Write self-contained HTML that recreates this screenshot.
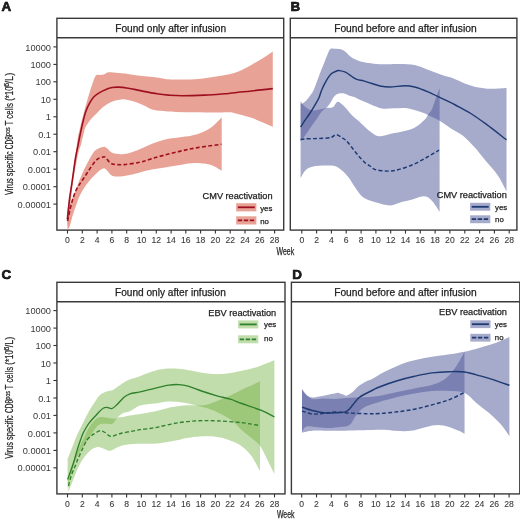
<!DOCTYPE html><html><head><meta charset="utf-8"><style>html,body{margin:0;padding:0;background:#fff;}svg{display:block;will-change:transform;}text{font-family:"Liberation Sans",sans-serif;fill:#222;stroke:#222;stroke-width:0.25px;}</style></head><body>
<svg width="520" height="521" viewBox="0 0 520 521">
<rect width="520" height="521" fill="#fff"/>
<g>
<path d="M67.5,212.0C67.8,209.5 68.8,202.2 69.5,197.0C70.2,191.8 70.8,186.3 71.5,181.0C72.2,175.7 73.2,170.2 74.0,165.0C74.8,159.8 75.6,154.5 76.2,150.0C76.8,145.5 77.2,141.7 77.8,138.0C78.4,134.3 79.1,131.8 80.1,127.8C81.0,123.8 82.3,118.4 83.5,114.0C84.7,109.6 86.0,104.9 87.0,101.3C88.0,97.7 88.8,95.1 89.6,92.5C90.4,89.9 91.1,87.6 91.8,85.5C92.5,83.4 93.1,81.7 93.8,80.0C94.5,78.3 95.2,76.1 96.2,75.3C97.2,74.5 98.7,75.1 100.0,74.9C101.3,74.8 102.5,74.8 103.8,74.4C105.1,74.0 106.1,72.8 107.7,72.5C109.3,72.2 110.6,72.3 113.5,72.5C116.4,72.7 121.0,73.0 125.0,73.5C129.1,74.0 132.5,74.8 137.8,75.5C143.1,76.2 151.9,76.8 157.0,77.4C162.1,78.0 163.7,79.0 168.5,79.3C173.3,79.6 180.0,79.7 185.8,79.5C191.6,79.3 197.1,79.1 203.2,78.4C209.3,77.7 216.7,76.6 222.5,75.5C228.3,74.4 233.0,73.5 237.8,71.7C242.6,69.9 247.1,67.2 251.3,64.9C255.5,62.7 259.2,60.4 262.8,58.2C266.4,56.0 271.1,52.6 272.8,51.5L272.8,126.8C271.1,126.1 266.4,124.1 262.8,122.6C259.2,121.1 255.5,119.2 251.3,117.8C247.1,116.4 241.4,114.9 237.8,114.0C234.2,113.1 233.8,112.5 230.0,112.2C226.2,112.0 220.4,112.5 214.7,112.5C208.9,112.5 201.9,112.4 195.5,112.3C189.1,112.2 182.6,112.3 176.2,112.0C169.8,111.7 161.1,111.0 157.0,110.5C152.9,110.0 153.8,110.2 151.5,109.3C149.2,108.4 146.4,106.6 143.5,105.3C140.6,104.0 137.0,102.5 133.9,101.5C130.8,100.5 127.1,99.8 125.0,99.5C122.9,99.2 122.8,99.4 121.2,99.6C119.6,99.8 117.3,100.1 115.4,100.6C113.5,101.1 111.6,101.7 109.6,102.8C107.5,103.9 105.1,105.3 103.1,107.0C101.0,108.7 99.2,110.9 97.3,112.8C95.4,114.7 93.5,116.3 91.6,118.6C89.7,120.9 87.1,124.0 85.8,126.6C84.5,129.2 84.3,131.1 83.5,134.0C82.7,136.9 81.9,141.2 81.2,143.9C80.5,146.6 79.9,147.0 79.1,150.0C78.3,153.0 77.5,156.7 76.5,162.0C75.5,167.3 74.1,174.3 73.0,182.0C71.9,189.7 70.9,200.3 70.0,208.0C69.1,215.7 67.9,224.7 67.5,228.0Z" fill="#c82405" fill-opacity="0.42" stroke="none"/>
<path d="M67.5,218.0C67.9,215.8 68.9,209.1 70.0,205.0C71.1,200.9 72.3,198.6 74.3,193.5C76.3,188.4 79.4,180.0 82.0,174.2C84.6,168.4 87.5,162.8 89.7,158.8C92.0,154.8 93.2,152.2 95.5,150.2C97.8,148.2 101.3,147.2 103.2,146.9C105.1,146.6 105.4,147.3 107.0,148.3C108.6,149.3 109.9,152.1 112.8,153.0C115.7,153.9 120.1,154.5 124.3,154.0C128.5,153.5 133.5,151.7 138.0,150.0C142.5,148.3 147.0,145.8 151.5,144.0C156.0,142.2 160.5,140.5 165.0,139.4C169.5,138.3 174.0,138.1 178.5,137.5C183.0,136.9 187.7,136.6 191.9,135.6C196.1,134.6 200.0,133.3 203.5,131.7C207.0,130.1 210.0,128.4 213.0,126.0C216.0,123.6 220.2,118.8 221.7,117.3L221.7,170.8C220.5,170.1 217.1,167.6 214.4,166.4C211.7,165.2 209.4,164.3 205.7,163.8C201.9,163.3 196.4,162.9 191.9,163.2C187.4,163.4 183.0,164.6 178.5,165.3C174.0,166.0 169.5,166.8 165.0,167.5C160.5,168.2 155.7,168.8 151.5,169.6C147.3,170.4 144.5,171.4 140.0,172.5C135.5,173.6 128.8,175.4 124.3,176.0C119.8,176.6 115.7,176.9 112.8,176.0C109.9,175.1 108.6,171.7 107.0,170.4C105.4,169.2 105.1,167.9 103.2,168.5C101.3,169.1 98.2,171.6 95.5,174.2C92.8,176.8 89.4,180.5 86.8,184.0C84.2,187.5 81.9,191.5 80.1,195.0C78.3,198.5 77.5,201.5 76.2,205.0C74.9,208.5 73.6,212.3 72.5,216.0C71.4,219.7 70.3,224.8 69.5,227.0C68.7,229.2 67.8,228.7 67.5,229.0Z" fill="#c82405" fill-opacity="0.42" stroke="none"/>
</g>
<path d="M67.3,219.4C67.7,216.0 68.7,205.8 69.5,199.2C70.3,192.6 71.4,186.9 72.4,180.0C73.4,173.1 74.5,164.0 75.5,158.0C76.5,152.0 77.5,148.2 78.3,143.9C79.1,139.6 79.8,136.1 80.6,132.4C81.4,128.8 82.0,125.5 82.9,122.0C83.8,118.5 84.7,114.7 85.8,111.6C86.9,108.5 87.9,106.1 89.3,103.6C90.7,101.1 92.2,98.5 93.9,96.7C95.6,94.9 97.5,93.8 99.6,92.6C101.7,91.3 104.5,90.0 106.6,89.2C108.7,88.4 110.0,87.8 112.0,87.5C114.0,87.2 115.6,87.0 118.3,87.1C121.0,87.2 124.3,87.6 128.2,88.2C132.1,88.8 136.8,90.0 141.6,90.9C146.4,91.8 152.5,93.1 157.0,93.8C161.5,94.5 164.3,94.8 168.5,95.1C172.7,95.4 175.9,95.7 182.0,95.7C188.1,95.7 197.9,95.4 205.0,95.1C212.1,94.8 217.9,94.3 224.3,93.8C230.7,93.2 237.4,92.4 243.5,91.8C249.6,91.2 256.0,90.4 260.9,89.9C265.8,89.4 270.8,88.8 272.8,88.6" fill="none" stroke="#9e1020" stroke-width="1.60" />
<path d="M67.5,221.0C68.2,218.2 70.0,209.2 71.4,204.0C72.9,198.8 74.1,194.3 76.2,190.0C78.3,185.7 80.7,182.8 83.9,178.0C87.1,173.2 92.3,164.5 95.5,161.0C98.7,157.5 101.5,157.5 103.2,157.0C105.0,156.5 104.6,156.9 106.0,158.0C107.4,159.1 108.8,162.6 111.8,163.7C114.8,164.8 119.6,164.8 124.3,164.6C129.0,164.3 135.8,163.0 140.0,162.2C144.2,161.3 146.1,160.4 149.3,159.5C152.5,158.6 154.3,157.8 159.2,156.5C164.1,155.2 172.1,153.1 178.5,151.6C184.9,150.1 190.5,148.8 197.7,147.6C204.9,146.4 217.5,144.9 221.5,144.3" fill="none" stroke="#9e1020" stroke-width="1.60" stroke-dasharray="3.9 2.3"/>
<rect x="56.9" y="18.3" width="226.8" height="211.8" fill="none" stroke="#3a3a3a" stroke-width="1.4"/>
<line x1="56.9" y1="37.8" x2="283.7" y2="37.8" stroke="#3a3a3a" stroke-width="1.4"/>
<text x="170.7" y="31.8" font-size="10.15" text-anchor="middle">Found only after infusion</text>
<line x1="67.5" y1="230.1" x2="67.5" y2="233.6" stroke="#333" stroke-width="1.1"/>
<text x="67.5" y="242.9" font-size="8.6" text-anchor="middle" style="fill:#3a3a3a;stroke:#3a3a3a;stroke-width:0.1px">0</text>
<line x1="82.3" y1="230.1" x2="82.3" y2="233.6" stroke="#333" stroke-width="1.1"/>
<text x="82.3" y="242.9" font-size="8.6" text-anchor="middle" style="fill:#3a3a3a;stroke:#3a3a3a;stroke-width:0.1px">2</text>
<line x1="97.1" y1="230.1" x2="97.1" y2="233.6" stroke="#333" stroke-width="1.1"/>
<text x="97.1" y="242.9" font-size="8.6" text-anchor="middle" style="fill:#3a3a3a;stroke:#3a3a3a;stroke-width:0.1px">4</text>
<line x1="111.9" y1="230.1" x2="111.9" y2="233.6" stroke="#333" stroke-width="1.1"/>
<text x="111.9" y="242.9" font-size="8.6" text-anchor="middle" style="fill:#3a3a3a;stroke:#3a3a3a;stroke-width:0.1px">6</text>
<line x1="126.7" y1="230.1" x2="126.7" y2="233.6" stroke="#333" stroke-width="1.1"/>
<text x="126.7" y="242.9" font-size="8.6" text-anchor="middle" style="fill:#3a3a3a;stroke:#3a3a3a;stroke-width:0.1px">8</text>
<line x1="141.5" y1="230.1" x2="141.5" y2="233.6" stroke="#333" stroke-width="1.1"/>
<text x="141.5" y="242.9" font-size="8.6" text-anchor="middle" style="fill:#3a3a3a;stroke:#3a3a3a;stroke-width:0.1px">10</text>
<line x1="156.3" y1="230.1" x2="156.3" y2="233.6" stroke="#333" stroke-width="1.1"/>
<text x="156.3" y="242.9" font-size="8.6" text-anchor="middle" style="fill:#3a3a3a;stroke:#3a3a3a;stroke-width:0.1px">12</text>
<line x1="171.1" y1="230.1" x2="171.1" y2="233.6" stroke="#333" stroke-width="1.1"/>
<text x="171.1" y="242.9" font-size="8.6" text-anchor="middle" style="fill:#3a3a3a;stroke:#3a3a3a;stroke-width:0.1px">14</text>
<line x1="185.8" y1="230.1" x2="185.8" y2="233.6" stroke="#333" stroke-width="1.1"/>
<text x="185.8" y="242.9" font-size="8.6" text-anchor="middle" style="fill:#3a3a3a;stroke:#3a3a3a;stroke-width:0.1px">16</text>
<line x1="200.6" y1="230.1" x2="200.6" y2="233.6" stroke="#333" stroke-width="1.1"/>
<text x="200.6" y="242.9" font-size="8.6" text-anchor="middle" style="fill:#3a3a3a;stroke:#3a3a3a;stroke-width:0.1px">18</text>
<line x1="215.4" y1="230.1" x2="215.4" y2="233.6" stroke="#333" stroke-width="1.1"/>
<text x="215.4" y="242.9" font-size="8.6" text-anchor="middle" style="fill:#3a3a3a;stroke:#3a3a3a;stroke-width:0.1px">20</text>
<line x1="230.2" y1="230.1" x2="230.2" y2="233.6" stroke="#333" stroke-width="1.1"/>
<text x="230.2" y="242.9" font-size="8.6" text-anchor="middle" style="fill:#3a3a3a;stroke:#3a3a3a;stroke-width:0.1px">22</text>
<line x1="245.0" y1="230.1" x2="245.0" y2="233.6" stroke="#333" stroke-width="1.1"/>
<text x="245.0" y="242.9" font-size="8.6" text-anchor="middle" style="fill:#3a3a3a;stroke:#3a3a3a;stroke-width:0.1px">24</text>
<line x1="259.8" y1="230.1" x2="259.8" y2="233.6" stroke="#333" stroke-width="1.1"/>
<text x="259.8" y="242.9" font-size="8.6" text-anchor="middle" style="fill:#3a3a3a;stroke:#3a3a3a;stroke-width:0.1px">26</text>
<line x1="274.6" y1="230.1" x2="274.6" y2="233.6" stroke="#333" stroke-width="1.1"/>
<text x="274.6" y="242.9" font-size="8.6" text-anchor="middle" style="fill:#3a3a3a;stroke:#3a3a3a;stroke-width:0.1px">28</text>
<line x1="53.4" y1="46.9" x2="56.9" y2="46.9" stroke="#333" stroke-width="1.1"/>
<text x="51.0" y="50.5" font-size="9.25" text-anchor="end" style="fill:#3a3a3a;stroke:none">10000</text>
<line x1="53.4" y1="64.4" x2="56.9" y2="64.4" stroke="#333" stroke-width="1.1"/>
<text x="51.0" y="68.0" font-size="9.25" text-anchor="end" style="fill:#3a3a3a;stroke:none">1000</text>
<line x1="53.4" y1="81.8" x2="56.9" y2="81.8" stroke="#333" stroke-width="1.1"/>
<text x="51.0" y="85.4" font-size="9.25" text-anchor="end" style="fill:#3a3a3a;stroke:none">100</text>
<line x1="53.4" y1="99.3" x2="56.9" y2="99.3" stroke="#333" stroke-width="1.1"/>
<text x="51.0" y="102.9" font-size="9.25" text-anchor="end" style="fill:#3a3a3a;stroke:none">10</text>
<line x1="53.4" y1="116.8" x2="56.9" y2="116.8" stroke="#333" stroke-width="1.1"/>
<text x="51.0" y="120.4" font-size="9.25" text-anchor="end" style="fill:#3a3a3a;stroke:none">1</text>
<line x1="53.4" y1="134.2" x2="56.9" y2="134.2" stroke="#333" stroke-width="1.1"/>
<text x="51.0" y="137.8" font-size="9.25" text-anchor="end" style="fill:#3a3a3a;stroke:none">0.1</text>
<line x1="53.4" y1="151.7" x2="56.9" y2="151.7" stroke="#333" stroke-width="1.1"/>
<text x="51.0" y="155.3" font-size="9.25" text-anchor="end" style="fill:#3a3a3a;stroke:none">0.01</text>
<line x1="53.4" y1="169.2" x2="56.9" y2="169.2" stroke="#333" stroke-width="1.1"/>
<text x="51.0" y="172.8" font-size="9.25" text-anchor="end" style="fill:#3a3a3a;stroke:none">0.001</text>
<line x1="53.4" y1="186.7" x2="56.9" y2="186.7" stroke="#333" stroke-width="1.1"/>
<text x="51.0" y="190.3" font-size="9.25" text-anchor="end" style="fill:#3a3a3a;stroke:none">0.0001</text>
<line x1="53.4" y1="204.1" x2="56.9" y2="204.1" stroke="#333" stroke-width="1.1"/>
<text x="51.0" y="207.7" font-size="9.25" text-anchor="end" style="fill:#3a3a3a;stroke:none">0.00001</text>
<text x="1.5" y="11.0" font-size="13.4" font-weight="bold" fill="#000" style="stroke:#000;stroke-width:0.6px">A</text>
<g>
<path d="M300.6,103.5C300.8,103.5 301.0,104.2 302.0,103.7C303.0,103.2 305.1,101.7 306.5,100.2C307.9,98.8 309.4,96.8 310.6,95.0C311.9,93.2 312.6,92.3 314.0,89.2C315.4,86.1 317.2,80.7 318.8,76.5C320.4,72.3 322.2,67.7 323.7,64.0C325.1,60.3 326.4,56.9 327.5,54.4C328.6,51.9 329.3,50.0 330.4,49.1C331.4,48.2 332.3,48.7 333.8,48.7C335.3,48.7 337.8,48.7 339.6,49.1C341.4,49.5 342.8,50.0 344.4,51.0C346.0,52.0 347.6,54.1 349.2,55.4C350.8,56.7 352.1,57.8 354.0,58.8C355.9,59.8 358.4,60.9 360.8,61.6C363.2,62.3 365.3,62.7 368.5,63.1C371.7,63.5 374.9,64.0 380.0,64.2C385.1,64.4 393.4,63.9 399.2,64.0C405.0,64.1 409.8,64.0 414.6,64.9C419.4,65.9 423.2,67.9 428.0,69.7C432.8,71.5 439.4,74.1 443.5,75.5C447.6,76.9 448.8,76.7 452.3,78.0C455.8,79.3 460.5,81.9 464.6,83.4C468.7,84.9 472.5,86.3 476.9,87.2C481.3,88.1 485.9,88.7 490.8,88.8C495.7,88.9 503.9,88.1 506.5,88.0L506.5,191.2C505.0,188.5 501.1,180.2 497.5,175.0C493.9,169.8 488.8,164.6 485.0,160.0C481.2,155.4 478.3,151.3 474.6,147.3C470.9,143.3 466.5,138.7 463.0,135.8C459.5,132.9 457.4,132.5 453.5,130.0C449.6,127.5 443.9,123.2 439.6,120.7C435.4,118.2 431.1,116.3 428.0,114.9C424.9,113.5 424.2,113.2 420.8,112.1C417.4,111.0 411.8,108.9 407.3,108.3C402.8,107.7 398.0,108.3 393.8,108.3C389.6,108.3 386.1,109.2 382.3,108.5C378.5,107.8 374.7,105.9 370.8,104.4C366.9,102.9 361.8,100.8 359.2,99.6C356.6,98.4 356.6,97.9 355.0,97.3C353.4,96.7 351.4,96.4 349.6,95.8C347.8,95.2 346.1,93.8 344.2,93.5C342.3,93.2 339.8,93.3 338.1,93.8C336.4,94.3 335.5,95.0 334.2,96.5C332.9,98.0 331.7,100.8 330.4,102.7C329.1,104.6 327.8,106.4 326.5,107.7C325.2,109.0 324.1,109.1 322.7,110.6C321.3,112.1 319.7,114.5 318.0,116.9C316.3,119.3 314.2,122.2 312.3,125.0C310.4,127.8 308.4,130.8 306.5,133.5C304.6,136.2 301.6,140.2 300.6,141.5Z" fill="#4d5597" fill-opacity="0.50" stroke="none"/>
<path d="M300.6,101.0C301.1,101.7 302.4,104.0 303.7,105.4C305.0,106.8 306.8,108.4 308.5,109.2C310.2,110.0 312.3,110.4 314.2,110.5C316.1,110.6 317.6,110.0 319.6,109.6C321.7,109.2 324.3,108.4 326.5,108.0C328.7,107.6 330.9,108.3 332.7,107.3C334.5,106.3 335.8,102.4 337.3,101.9C338.8,101.4 340.5,103.2 341.9,104.2C343.3,105.2 344.4,106.5 345.8,108.0C347.2,109.5 348.9,111.8 350.4,113.5C351.9,115.2 353.5,116.7 355.0,118.0C356.5,119.3 356.9,119.4 359.2,121.5C361.5,123.6 365.6,128.0 368.8,130.4C372.0,132.8 375.0,135.6 378.5,136.2C382.0,136.8 385.8,134.8 390.0,134.0C394.2,133.2 399.3,132.4 403.5,131.3C407.7,130.2 411.5,129.4 415.0,127.5C418.5,125.6 422.4,122.0 424.6,119.8C426.9,117.5 427.3,115.8 428.5,114.0C429.7,112.2 430.6,112.2 432.0,109.2C433.4,106.2 435.4,99.2 436.7,95.7C438.0,92.2 439.1,89.3 439.6,88.0L439.6,211.7C438.4,209.9 434.8,203.8 432.3,201.2C429.8,198.6 427.8,196.6 424.6,196.3C421.4,196.0 417.0,198.2 413.1,199.2C409.2,200.2 405.4,201.0 401.5,202.1C397.6,203.2 394.5,205.5 390.0,205.5C385.5,205.5 379.1,203.5 374.6,202.1C370.1,200.7 366.3,199.7 363.1,197.3C359.9,194.9 358.0,191.2 355.4,187.7C352.8,184.2 350.6,179.6 347.7,176.2C344.8,172.8 341.2,169.3 338.0,167.5C334.8,165.7 332.6,165.8 328.5,165.6C324.4,165.4 317.0,165.7 313.1,166.5C309.2,167.3 307.5,168.5 305.4,170.4C303.3,172.3 301.4,176.7 300.6,178.0Z" fill="#4d5597" fill-opacity="0.50" stroke="none"/>
</g>
<path d="M300.6,127.0C301.3,126.0 303.1,123.0 304.6,120.8C306.1,118.6 307.8,116.4 309.4,114.0C311.0,111.6 312.6,109.0 314.2,106.3C315.8,103.6 317.8,100.4 319.0,97.7C320.2,95.0 320.4,92.9 321.7,90.0C322.9,87.1 324.9,83.1 326.5,80.4C328.1,77.7 329.5,75.3 331.3,73.7C333.1,72.1 335.7,71.3 337.1,70.8C338.5,70.3 338.2,70.4 339.6,70.6C341.0,70.8 343.5,71.3 345.4,72.2C347.3,73.1 349.3,74.8 351.2,76.0C353.1,77.2 354.8,78.6 356.9,79.4C359.0,80.2 361.3,80.2 363.7,80.9C366.1,81.6 368.6,82.5 371.3,83.3C374.0,84.1 376.9,85.4 380.0,86.0C383.1,86.6 385.4,87.0 389.6,87.0C393.8,87.0 400.8,85.7 405.0,85.7C409.2,85.7 410.8,86.0 414.6,87.0C418.4,88.0 423.2,89.8 428.0,91.8C432.8,93.8 438.9,97.0 443.5,99.2C448.1,101.4 450.8,102.6 455.4,105.0C459.9,107.4 465.7,110.3 470.8,113.5C475.9,116.7 480.2,119.8 486.2,124.2C492.1,128.6 503.1,137.2 506.5,139.8" fill="none" stroke="#1d3a72" stroke-width="1.45" />
<path d="M300.6,139.5C301.3,139.4 302.3,139.1 304.6,138.9C306.9,138.8 311.0,138.7 314.2,138.6C317.4,138.5 320.9,138.5 323.8,138.3C326.7,138.1 329.4,137.9 331.5,137.3C333.6,136.7 334.5,134.5 336.3,134.6C338.1,134.7 340.5,136.9 342.1,137.8C343.7,138.7 344.5,139.0 345.8,140.2C347.1,141.4 348.4,143.0 350.0,145.0C351.6,147.0 353.7,149.9 355.4,152.0C357.1,154.1 358.4,155.7 360.0,157.5C361.6,159.3 363.3,161.3 365.0,162.7C366.7,164.1 368.4,164.9 370.0,166.0C371.6,167.1 372.6,168.6 374.6,169.4C376.7,170.2 379.7,170.5 382.3,170.8C384.9,171.1 387.4,171.2 390.0,171.0C392.6,170.8 393.8,170.9 397.7,169.8C401.6,168.7 408.3,166.6 413.1,164.5C417.9,162.4 422.2,159.9 426.5,157.5C430.8,155.1 436.9,151.4 439.0,150.2" fill="none" stroke="#1d3a72" stroke-width="1.45" stroke-dasharray="3.9 2.3"/>
<rect x="290.3" y="18.3" width="226.6" height="211.8" fill="none" stroke="#3a3a3a" stroke-width="1.4"/>
<line x1="290.3" y1="37.8" x2="516.9" y2="37.8" stroke="#3a3a3a" stroke-width="1.4"/>
<text x="405.4" y="31.8" font-size="10.25" text-anchor="middle">Found before and after infusion</text>
<line x1="301.8" y1="230.1" x2="301.8" y2="233.6" stroke="#333" stroke-width="1.1"/>
<text x="301.8" y="242.9" font-size="8.6" text-anchor="middle" style="fill:#3a3a3a;stroke:#3a3a3a;stroke-width:0.1px">0</text>
<line x1="316.6" y1="230.1" x2="316.6" y2="233.6" stroke="#333" stroke-width="1.1"/>
<text x="316.6" y="242.9" font-size="8.6" text-anchor="middle" style="fill:#3a3a3a;stroke:#3a3a3a;stroke-width:0.1px">2</text>
<line x1="331.4" y1="230.1" x2="331.4" y2="233.6" stroke="#333" stroke-width="1.1"/>
<text x="331.4" y="242.9" font-size="8.6" text-anchor="middle" style="fill:#3a3a3a;stroke:#3a3a3a;stroke-width:0.1px">4</text>
<line x1="346.2" y1="230.1" x2="346.2" y2="233.6" stroke="#333" stroke-width="1.1"/>
<text x="346.2" y="242.9" font-size="8.6" text-anchor="middle" style="fill:#3a3a3a;stroke:#3a3a3a;stroke-width:0.1px">6</text>
<line x1="361.1" y1="230.1" x2="361.1" y2="233.6" stroke="#333" stroke-width="1.1"/>
<text x="361.1" y="242.9" font-size="8.6" text-anchor="middle" style="fill:#3a3a3a;stroke:#3a3a3a;stroke-width:0.1px">8</text>
<line x1="375.9" y1="230.1" x2="375.9" y2="233.6" stroke="#333" stroke-width="1.1"/>
<text x="375.9" y="242.9" font-size="8.6" text-anchor="middle" style="fill:#3a3a3a;stroke:#3a3a3a;stroke-width:0.1px">10</text>
<line x1="390.7" y1="230.1" x2="390.7" y2="233.6" stroke="#333" stroke-width="1.1"/>
<text x="390.7" y="242.9" font-size="8.6" text-anchor="middle" style="fill:#3a3a3a;stroke:#3a3a3a;stroke-width:0.1px">12</text>
<line x1="405.5" y1="230.1" x2="405.5" y2="233.6" stroke="#333" stroke-width="1.1"/>
<text x="405.5" y="242.9" font-size="8.6" text-anchor="middle" style="fill:#3a3a3a;stroke:#3a3a3a;stroke-width:0.1px">14</text>
<line x1="420.3" y1="230.1" x2="420.3" y2="233.6" stroke="#333" stroke-width="1.1"/>
<text x="420.3" y="242.9" font-size="8.6" text-anchor="middle" style="fill:#3a3a3a;stroke:#3a3a3a;stroke-width:0.1px">16</text>
<line x1="435.1" y1="230.1" x2="435.1" y2="233.6" stroke="#333" stroke-width="1.1"/>
<text x="435.1" y="242.9" font-size="8.6" text-anchor="middle" style="fill:#3a3a3a;stroke:#3a3a3a;stroke-width:0.1px">18</text>
<line x1="449.9" y1="230.1" x2="449.9" y2="233.6" stroke="#333" stroke-width="1.1"/>
<text x="449.9" y="242.9" font-size="8.6" text-anchor="middle" style="fill:#3a3a3a;stroke:#3a3a3a;stroke-width:0.1px">20</text>
<line x1="464.8" y1="230.1" x2="464.8" y2="233.6" stroke="#333" stroke-width="1.1"/>
<text x="464.8" y="242.9" font-size="8.6" text-anchor="middle" style="fill:#3a3a3a;stroke:#3a3a3a;stroke-width:0.1px">22</text>
<line x1="479.6" y1="230.1" x2="479.6" y2="233.6" stroke="#333" stroke-width="1.1"/>
<text x="479.6" y="242.9" font-size="8.6" text-anchor="middle" style="fill:#3a3a3a;stroke:#3a3a3a;stroke-width:0.1px">24</text>
<line x1="494.4" y1="230.1" x2="494.4" y2="233.6" stroke="#333" stroke-width="1.1"/>
<text x="494.4" y="242.9" font-size="8.6" text-anchor="middle" style="fill:#3a3a3a;stroke:#3a3a3a;stroke-width:0.1px">26</text>
<line x1="509.2" y1="230.1" x2="509.2" y2="233.6" stroke="#333" stroke-width="1.1"/>
<text x="509.2" y="242.9" font-size="8.6" text-anchor="middle" style="fill:#3a3a3a;stroke:#3a3a3a;stroke-width:0.1px">28</text>
<text x="290.5" y="10.8" font-size="13.4" font-weight="bold" fill="#000" style="stroke:#000;stroke-width:0.6px">B</text>
<g>
<path d="M67.6,459.0C68.4,456.9 71.1,450.2 72.7,446.1C74.3,442.0 75.6,438.5 77.3,434.6C79.0,430.8 81.1,426.9 83.0,423.0C84.9,419.1 86.9,414.9 88.8,411.5C90.7,408.1 92.9,404.9 94.6,402.3C96.3,399.7 97.6,397.5 99.2,395.8C100.8,394.1 102.4,393.2 104.0,392.4C105.6,391.6 107.2,391.5 108.8,391.0C110.4,390.5 110.8,391.2 113.7,389.5C116.6,387.8 122.2,383.1 126.2,381.0C130.2,378.9 133.6,378.6 137.8,377.0C142.0,375.4 147.0,373.1 151.5,371.7C156.0,370.3 160.5,369.3 165.0,368.8C169.5,368.3 174.0,368.5 178.5,368.8C183.0,369.1 187.1,370.0 191.9,370.8C196.7,371.6 202.2,373.0 207.3,373.5C212.4,374.0 216.8,374.4 222.5,374.0C228.2,373.6 235.9,372.0 241.7,370.8C247.5,369.6 251.7,368.7 257.1,366.9C262.6,365.1 271.5,361.3 274.4,360.2L274.4,474.0C273.1,471.3 268.9,462.8 266.5,458.0C264.1,453.2 262.4,448.8 259.8,445.4C257.2,442.0 254.2,440.3 251.2,437.7C248.1,435.1 244.7,432.8 241.5,430.0C238.3,427.2 235.8,423.5 232.3,420.8C228.9,418.1 225.0,416.1 220.8,414.0C216.6,411.9 211.5,409.7 207.3,408.3C203.1,406.9 200.0,406.4 195.8,405.4C191.6,404.4 186.8,403.1 182.3,402.5C177.8,401.9 173.3,401.3 168.8,401.5C164.3,401.7 160.2,402.9 155.4,403.5C150.6,404.1 144.2,404.1 140.0,405.4C135.8,406.7 132.8,409.9 130.0,411.2C127.2,412.5 125.4,412.0 123.3,413.0C121.2,414.0 119.1,415.8 117.5,417.4C115.9,419.0 114.8,421.6 113.7,422.7C112.6,423.8 112.2,423.9 110.8,424.1C109.3,424.3 106.9,423.6 105.0,423.7C103.1,423.8 101.1,423.3 99.2,424.6C97.3,425.9 95.4,428.7 93.5,431.3C91.6,433.9 90.0,436.6 87.7,440.0C85.5,443.4 82.1,448.3 80.0,452.0C77.9,455.7 76.7,457.7 75.0,462.0C73.3,466.3 71.2,473.5 70.0,478.0C68.8,482.5 68.0,487.2 67.6,489.0Z" fill="#66aa30" fill-opacity="0.40" stroke="none"/>
<path d="M68.0,480.0C68.7,477.7 70.3,471.0 72.0,466.0C73.7,461.0 76.0,454.7 78.0,450.0C80.0,445.3 81.9,441.9 83.8,438.0C85.7,434.1 87.5,429.7 89.6,426.5C91.7,423.3 94.4,420.4 96.3,418.8C98.2,417.2 99.1,417.0 101.2,416.9C103.3,416.8 106.6,417.6 108.8,417.9C111.0,418.2 113.1,418.9 114.6,418.8C116.1,418.8 116.5,417.9 118.0,417.6C119.5,417.3 121.3,417.2 123.3,416.9C125.3,416.5 127.2,416.0 130.0,415.5C132.8,415.0 135.8,414.7 140.0,414.0C144.2,413.3 150.3,412.3 155.4,411.2C160.5,410.1 166.0,408.3 170.8,407.3C175.6,406.3 179.7,405.7 184.2,405.4C188.7,405.1 193.8,405.6 197.7,405.4C201.5,405.2 203.5,405.4 207.3,404.4C211.2,403.4 216.7,401.1 220.8,399.5C225.0,397.9 227.8,396.6 232.2,394.5C236.6,392.4 242.9,389.3 247.5,387.1C252.1,384.9 257.9,382.3 260.0,381.3L260.0,471.2C258.6,468.6 254.4,460.0 251.3,455.8C248.2,451.6 245.2,448.8 241.7,446.2C238.2,443.6 234.7,442.0 230.2,440.4C225.7,438.8 219.9,437.1 214.8,436.5C209.7,435.9 204.5,436.2 199.4,436.5C194.3,436.8 187.5,437.9 184.0,438.5C180.5,439.1 183.0,439.2 178.5,440.0C174.0,440.8 164.4,442.8 157.0,443.5C149.6,444.2 140.0,443.6 133.9,444.0C127.8,444.4 124.0,445.0 120.5,446.0C117.0,447.0 114.7,449.0 112.8,449.8C110.9,450.6 110.5,451.0 108.9,450.8C107.3,450.6 104.8,449.1 103.1,448.5C101.4,447.9 100.2,446.9 98.5,446.9C96.8,446.9 94.9,447.5 93.1,448.5C91.3,449.5 89.5,451.2 87.7,453.1C85.9,455.0 84.0,457.4 82.3,460.0C80.6,462.6 79.2,465.2 77.7,468.5C76.2,471.8 74.2,477.2 73.1,480.0C72.0,482.8 71.8,483.0 71.0,485.0C70.2,487.0 68.9,490.8 68.5,492.0Z" fill="#66aa30" fill-opacity="0.40" stroke="none"/>
</g>
<path d="M67.6,479.5C68.1,478.1 69.6,474.2 70.8,470.8C72.0,467.4 73.5,462.8 74.6,459.2C75.7,455.6 76.5,452.2 77.5,449.0C78.5,445.8 79.6,442.5 80.5,440.0C81.4,437.5 81.8,436.1 82.7,434.0C83.7,431.9 85.0,429.6 86.2,427.5C87.5,425.4 88.8,423.5 90.2,421.7C91.7,419.9 93.4,418.1 94.9,416.5C96.4,414.9 97.6,413.4 99.0,412.0C100.4,410.6 101.9,409.0 103.2,408.2C104.5,407.4 105.6,407.3 107.0,407.4C108.4,407.5 110.2,409.0 111.8,408.6C113.4,408.2 114.6,406.9 116.6,405.0C118.6,403.1 121.8,399.2 124.0,397.3C126.2,395.4 127.3,394.7 130.0,393.8C132.7,392.9 135.8,392.8 140.0,391.9C144.2,390.9 150.6,389.2 155.4,388.1C160.2,387.0 165.0,385.8 168.8,385.2C172.7,384.6 175.3,384.4 178.5,384.6C181.7,384.8 184.3,385.1 188.1,386.2C191.9,387.3 196.7,389.4 201.5,391.0C206.3,392.6 212.1,394.4 216.9,395.8C221.7,397.2 226.3,397.9 230.4,399.2C234.5,400.5 236.6,401.7 241.7,403.5C246.8,405.3 255.4,408.0 260.9,410.2C266.3,412.4 272.1,415.8 274.4,416.9" fill="none" stroke="#2f802c" stroke-width="1.35" />
<path d="M68.5,486.0C69.0,484.2 70.3,478.4 71.5,475.0C72.7,471.6 74.2,468.3 75.4,465.4C76.6,462.5 77.2,460.6 78.5,457.7C79.8,454.8 81.7,450.6 83.1,447.7C84.5,444.8 85.5,442.1 87.0,440.0C88.5,437.9 90.6,436.4 92.0,435.2C93.4,434.0 94.1,433.8 95.5,433.0C96.9,432.2 98.7,430.7 100.3,430.6C101.9,430.5 103.2,431.6 105.0,432.5C106.8,433.4 108.2,436.1 110.8,436.3C113.4,436.5 116.7,434.4 120.5,433.5C124.3,432.6 130.7,431.4 133.9,430.8C137.2,430.2 137.3,430.0 140.0,429.6C142.7,429.2 146.8,429.0 150.0,428.5C153.2,428.0 154.4,427.8 159.2,426.8C163.9,425.8 172.1,423.7 178.5,422.7C184.9,421.7 191.3,421.1 197.7,420.8C204.1,420.5 209.6,420.5 216.9,420.8C224.2,421.1 234.5,421.9 241.7,422.7C248.9,423.5 256.9,425.1 260.0,425.6" fill="none" stroke="#2f802c" stroke-width="1.35" stroke-dasharray="3.9 2.3"/>
<rect x="56.9" y="282.3" width="228.1" height="211.6" fill="none" stroke="#3a3a3a" stroke-width="1.4"/>
<line x1="56.9" y1="301.7" x2="285.0" y2="301.7" stroke="#3a3a3a" stroke-width="1.4"/>
<text x="170.4" y="295.8" font-size="10.15" text-anchor="middle">Found only after infusion</text>
<line x1="67.5" y1="493.9" x2="67.5" y2="497.4" stroke="#333" stroke-width="1.1"/>
<text x="67.5" y="506.7" font-size="8.6" text-anchor="middle" style="fill:#3a3a3a;stroke:#3a3a3a;stroke-width:0.1px">0</text>
<line x1="82.3" y1="493.9" x2="82.3" y2="497.4" stroke="#333" stroke-width="1.1"/>
<text x="82.3" y="506.7" font-size="8.6" text-anchor="middle" style="fill:#3a3a3a;stroke:#3a3a3a;stroke-width:0.1px">2</text>
<line x1="97.1" y1="493.9" x2="97.1" y2="497.4" stroke="#333" stroke-width="1.1"/>
<text x="97.1" y="506.7" font-size="8.6" text-anchor="middle" style="fill:#3a3a3a;stroke:#3a3a3a;stroke-width:0.1px">4</text>
<line x1="111.9" y1="493.9" x2="111.9" y2="497.4" stroke="#333" stroke-width="1.1"/>
<text x="111.9" y="506.7" font-size="8.6" text-anchor="middle" style="fill:#3a3a3a;stroke:#3a3a3a;stroke-width:0.1px">6</text>
<line x1="126.6" y1="493.9" x2="126.6" y2="497.4" stroke="#333" stroke-width="1.1"/>
<text x="126.6" y="506.7" font-size="8.6" text-anchor="middle" style="fill:#3a3a3a;stroke:#3a3a3a;stroke-width:0.1px">8</text>
<line x1="141.4" y1="493.9" x2="141.4" y2="497.4" stroke="#333" stroke-width="1.1"/>
<text x="141.4" y="506.7" font-size="8.6" text-anchor="middle" style="fill:#3a3a3a;stroke:#3a3a3a;stroke-width:0.1px">10</text>
<line x1="156.2" y1="493.9" x2="156.2" y2="497.4" stroke="#333" stroke-width="1.1"/>
<text x="156.2" y="506.7" font-size="8.6" text-anchor="middle" style="fill:#3a3a3a;stroke:#3a3a3a;stroke-width:0.1px">12</text>
<line x1="171.0" y1="493.9" x2="171.0" y2="497.4" stroke="#333" stroke-width="1.1"/>
<text x="171.0" y="506.7" font-size="8.6" text-anchor="middle" style="fill:#3a3a3a;stroke:#3a3a3a;stroke-width:0.1px">14</text>
<line x1="185.8" y1="493.9" x2="185.8" y2="497.4" stroke="#333" stroke-width="1.1"/>
<text x="185.8" y="506.7" font-size="8.6" text-anchor="middle" style="fill:#3a3a3a;stroke:#3a3a3a;stroke-width:0.1px">16</text>
<line x1="200.6" y1="493.9" x2="200.6" y2="497.4" stroke="#333" stroke-width="1.1"/>
<text x="200.6" y="506.7" font-size="8.6" text-anchor="middle" style="fill:#3a3a3a;stroke:#3a3a3a;stroke-width:0.1px">18</text>
<line x1="215.4" y1="493.9" x2="215.4" y2="497.4" stroke="#333" stroke-width="1.1"/>
<text x="215.4" y="506.7" font-size="8.6" text-anchor="middle" style="fill:#3a3a3a;stroke:#3a3a3a;stroke-width:0.1px">20</text>
<line x1="230.1" y1="493.9" x2="230.1" y2="497.4" stroke="#333" stroke-width="1.1"/>
<text x="230.1" y="506.7" font-size="8.6" text-anchor="middle" style="fill:#3a3a3a;stroke:#3a3a3a;stroke-width:0.1px">22</text>
<line x1="244.9" y1="493.9" x2="244.9" y2="497.4" stroke="#333" stroke-width="1.1"/>
<text x="244.9" y="506.7" font-size="8.6" text-anchor="middle" style="fill:#3a3a3a;stroke:#3a3a3a;stroke-width:0.1px">24</text>
<line x1="259.7" y1="493.9" x2="259.7" y2="497.4" stroke="#333" stroke-width="1.1"/>
<text x="259.7" y="506.7" font-size="8.6" text-anchor="middle" style="fill:#3a3a3a;stroke:#3a3a3a;stroke-width:0.1px">26</text>
<line x1="274.5" y1="493.9" x2="274.5" y2="497.4" stroke="#333" stroke-width="1.1"/>
<text x="274.5" y="506.7" font-size="8.6" text-anchor="middle" style="fill:#3a3a3a;stroke:#3a3a3a;stroke-width:0.1px">28</text>
<line x1="53.4" y1="310.6" x2="56.9" y2="310.6" stroke="#333" stroke-width="1.1"/>
<text x="51.0" y="314.2" font-size="9.25" text-anchor="end" style="fill:#3a3a3a;stroke:none">10000</text>
<line x1="53.4" y1="328.1" x2="56.9" y2="328.1" stroke="#333" stroke-width="1.1"/>
<text x="51.0" y="331.7" font-size="9.25" text-anchor="end" style="fill:#3a3a3a;stroke:none">1000</text>
<line x1="53.4" y1="345.5" x2="56.9" y2="345.5" stroke="#333" stroke-width="1.1"/>
<text x="51.0" y="349.1" font-size="9.25" text-anchor="end" style="fill:#3a3a3a;stroke:none">100</text>
<line x1="53.4" y1="363.0" x2="56.9" y2="363.0" stroke="#333" stroke-width="1.1"/>
<text x="51.0" y="366.6" font-size="9.25" text-anchor="end" style="fill:#3a3a3a;stroke:none">10</text>
<line x1="53.4" y1="380.5" x2="56.9" y2="380.5" stroke="#333" stroke-width="1.1"/>
<text x="51.0" y="384.1" font-size="9.25" text-anchor="end" style="fill:#3a3a3a;stroke:none">1</text>
<line x1="53.4" y1="398.0" x2="56.9" y2="398.0" stroke="#333" stroke-width="1.1"/>
<text x="51.0" y="401.6" font-size="9.25" text-anchor="end" style="fill:#3a3a3a;stroke:none">0.1</text>
<line x1="53.4" y1="415.4" x2="56.9" y2="415.4" stroke="#333" stroke-width="1.1"/>
<text x="51.0" y="419.0" font-size="9.25" text-anchor="end" style="fill:#3a3a3a;stroke:none">0.01</text>
<line x1="53.4" y1="432.9" x2="56.9" y2="432.9" stroke="#333" stroke-width="1.1"/>
<text x="51.0" y="436.5" font-size="9.25" text-anchor="end" style="fill:#3a3a3a;stroke:none">0.001</text>
<line x1="53.4" y1="450.4" x2="56.9" y2="450.4" stroke="#333" stroke-width="1.1"/>
<text x="51.0" y="454.0" font-size="9.25" text-anchor="end" style="fill:#3a3a3a;stroke:none">0.0001</text>
<line x1="53.4" y1="467.8" x2="56.9" y2="467.8" stroke="#333" stroke-width="1.1"/>
<text x="51.0" y="471.4" font-size="9.25" text-anchor="end" style="fill:#3a3a3a;stroke:none">0.00001</text>
<text x="1.6" y="278.8" font-size="13.4" font-weight="bold" fill="#000" style="stroke:#000;stroke-width:0.6px">C</text>
<g>
<path d="M302.0,389.2C302.8,390.2 304.8,393.6 306.5,395.0C308.2,396.4 310.4,397.2 312.3,397.5C314.2,397.8 315.1,397.2 318.0,396.7C320.9,396.2 326.8,394.9 329.6,394.4C332.4,393.8 333.5,393.6 335.0,393.4C336.5,393.1 337.1,392.7 338.5,392.9C339.9,393.1 341.8,394.1 343.1,394.6C344.4,395.1 345.0,396.1 346.5,395.7C348.0,395.3 350.4,393.8 352.3,392.3C354.2,390.8 355.9,388.2 358.0,386.5C360.1,384.8 362.5,383.2 365.0,381.9C367.5,380.6 370.5,379.8 373.0,378.5C375.5,377.2 377.1,375.9 380.0,374.3C382.9,372.7 386.1,371.0 390.4,369.0C394.7,367.0 400.5,364.3 406.0,362.5C411.5,360.7 417.5,359.3 423.3,358.2C429.1,357.1 434.8,356.5 440.6,355.6C446.4,354.7 453.0,353.9 457.9,353.0C462.8,352.1 466.3,351.4 470.0,350.5C473.7,349.6 476.0,348.9 480.0,347.8C484.0,346.7 488.9,345.4 493.8,343.6C498.7,341.8 506.8,338.0 509.4,336.9L509.4,436.3C508.1,434.5 504.9,429.2 501.8,425.6C498.8,422.0 495.1,418.4 491.1,414.8C487.1,411.2 482.1,407.8 477.6,404.1C473.2,400.4 469.1,395.0 464.4,392.8C459.7,390.6 454.6,391.3 449.2,391.0C443.8,390.7 437.7,390.6 431.9,391.0C426.1,391.4 420.4,392.6 414.6,393.6C408.8,394.6 403.1,395.7 397.3,397.1C391.5,398.5 384.6,400.5 380.0,401.8C375.4,403.1 372.5,403.9 369.6,405.0C366.7,406.1 364.5,407.1 362.6,408.4C360.7,409.7 359.3,411.5 358.0,413.0C356.7,414.5 355.8,415.9 354.6,417.6C353.5,419.3 352.5,421.9 351.1,423.4C349.8,424.8 348.4,425.7 346.5,426.3C344.6,426.9 342.8,426.7 340.0,427.0C337.2,427.3 333.3,428.0 329.6,428.0C325.9,428.0 321.9,427.4 318.0,427.2C314.1,426.9 309.2,425.7 306.5,426.5C303.8,427.3 302.8,430.9 302.0,431.8Z" fill="#4d5597" fill-opacity="0.50" stroke="none"/>
<path d="M302.0,389.2C302.8,390.2 304.8,393.4 306.5,395.0C308.2,396.6 309.4,398.4 312.3,399.0C315.2,399.6 320.0,398.4 323.8,398.4C327.6,398.4 331.2,399.1 335.0,399.0C338.8,398.9 342.7,398.2 346.5,398.0C350.3,397.8 354.1,397.7 358.0,397.5C361.9,397.3 365.9,397.2 369.6,396.9C373.3,396.6 375.4,396.6 380.0,395.8C384.6,395.0 391.5,393.1 397.3,391.9C403.1,390.7 408.8,389.5 414.6,388.4C420.4,387.2 427.0,386.4 431.9,385.0C436.8,383.6 440.5,382.1 444.0,379.8C447.5,377.5 450.1,374.3 452.7,371.1C455.3,367.9 457.7,364.0 459.6,360.8C461.6,357.6 463.6,353.6 464.4,352.1L464.6,433.7C463.6,433.2 461.4,431.9 458.8,430.8C456.2,429.7 452.7,427.9 449.2,426.9C445.7,425.9 441.5,425.0 437.7,425.0C433.9,425.0 430.7,425.9 426.2,426.9C421.7,427.9 415.9,430.1 410.8,430.8C405.7,431.5 400.5,431.0 395.4,430.8C390.3,430.6 388.4,429.8 380.0,429.8C371.6,429.8 354.4,430.6 345.0,430.7C335.6,430.8 329.2,430.7 323.8,430.7C318.4,430.7 315.9,430.4 312.3,430.7C308.7,431.0 303.7,432.2 302.0,432.5Z" fill="#4d5597" fill-opacity="0.50" stroke="none"/>
</g>
<path d="M302.0,407.1C303.7,407.7 308.7,409.6 312.3,410.5C315.9,411.4 320.0,412.4 323.8,412.8C327.6,413.2 331.7,413.0 335.3,412.8C338.9,412.6 342.9,412.6 345.4,411.9C347.8,411.2 348.5,409.9 350.0,408.4C351.5,406.8 353.1,404.4 354.6,402.6C356.1,400.8 357.5,398.9 359.2,397.5C360.9,396.1 362.7,395.2 365.0,394.0C367.3,392.8 370.5,391.2 373.0,390.0C375.5,388.8 375.9,388.2 380.0,386.7C384.1,385.1 391.5,382.4 397.3,380.7C403.1,379.0 408.8,377.6 414.6,376.3C420.4,375.0 426.1,373.7 431.9,372.9C437.7,372.1 443.8,371.8 449.2,371.7C454.6,371.6 459.2,371.3 464.4,372.0C469.6,372.7 475.4,374.6 480.3,375.9C485.2,377.2 489.0,378.3 493.8,379.9C498.6,381.5 506.8,384.4 509.4,385.3" fill="none" stroke="#1d3a72" stroke-width="1.45" />
<path d="M302.0,411.1C303.7,411.6 308.7,413.6 312.3,414.0C315.9,414.4 320.0,413.7 323.8,413.4C327.6,413.1 331.1,412.1 335.3,412.0C339.5,411.9 343.5,412.7 348.8,413.0C354.1,413.3 361.7,413.6 366.9,413.7C372.1,413.8 374.9,413.8 380.0,413.5C385.1,413.2 391.5,412.5 397.3,411.8C403.1,411.1 408.8,410.4 414.6,409.2C420.4,408.0 426.1,406.5 431.9,404.9C437.7,403.3 443.8,401.8 449.2,399.7C454.6,397.6 461.9,393.7 464.4,392.5" fill="none" stroke="#1d3a72" stroke-width="1.45" stroke-dasharray="3.9 2.3"/>
<rect x="291.4" y="282.3" width="228.4" height="211.6" fill="none" stroke="#3a3a3a" stroke-width="1.4"/>
<line x1="291.4" y1="301.7" x2="519.8" y2="301.7" stroke="#3a3a3a" stroke-width="1.4"/>
<text x="405.4" y="295.8" font-size="10.25" text-anchor="middle">Found before and after infusion</text>
<line x1="301.7" y1="493.9" x2="301.7" y2="497.4" stroke="#333" stroke-width="1.1"/>
<text x="301.7" y="506.7" font-size="8.6" text-anchor="middle" style="fill:#3a3a3a;stroke:#3a3a3a;stroke-width:0.1px">0</text>
<line x1="316.5" y1="493.9" x2="316.5" y2="497.4" stroke="#333" stroke-width="1.1"/>
<text x="316.5" y="506.7" font-size="8.6" text-anchor="middle" style="fill:#3a3a3a;stroke:#3a3a3a;stroke-width:0.1px">2</text>
<line x1="331.3" y1="493.9" x2="331.3" y2="497.4" stroke="#333" stroke-width="1.1"/>
<text x="331.3" y="506.7" font-size="8.6" text-anchor="middle" style="fill:#3a3a3a;stroke:#3a3a3a;stroke-width:0.1px">4</text>
<line x1="346.1" y1="493.9" x2="346.1" y2="497.4" stroke="#333" stroke-width="1.1"/>
<text x="346.1" y="506.7" font-size="8.6" text-anchor="middle" style="fill:#3a3a3a;stroke:#3a3a3a;stroke-width:0.1px">6</text>
<line x1="361.0" y1="493.9" x2="361.0" y2="497.4" stroke="#333" stroke-width="1.1"/>
<text x="361.0" y="506.7" font-size="8.6" text-anchor="middle" style="fill:#3a3a3a;stroke:#3a3a3a;stroke-width:0.1px">8</text>
<line x1="375.8" y1="493.9" x2="375.8" y2="497.4" stroke="#333" stroke-width="1.1"/>
<text x="375.8" y="506.7" font-size="8.6" text-anchor="middle" style="fill:#3a3a3a;stroke:#3a3a3a;stroke-width:0.1px">10</text>
<line x1="390.6" y1="493.9" x2="390.6" y2="497.4" stroke="#333" stroke-width="1.1"/>
<text x="390.6" y="506.7" font-size="8.6" text-anchor="middle" style="fill:#3a3a3a;stroke:#3a3a3a;stroke-width:0.1px">12</text>
<line x1="405.4" y1="493.9" x2="405.4" y2="497.4" stroke="#333" stroke-width="1.1"/>
<text x="405.4" y="506.7" font-size="8.6" text-anchor="middle" style="fill:#3a3a3a;stroke:#3a3a3a;stroke-width:0.1px">14</text>
<line x1="420.2" y1="493.9" x2="420.2" y2="497.4" stroke="#333" stroke-width="1.1"/>
<text x="420.2" y="506.7" font-size="8.6" text-anchor="middle" style="fill:#3a3a3a;stroke:#3a3a3a;stroke-width:0.1px">16</text>
<line x1="435.0" y1="493.9" x2="435.0" y2="497.4" stroke="#333" stroke-width="1.1"/>
<text x="435.0" y="506.7" font-size="8.6" text-anchor="middle" style="fill:#3a3a3a;stroke:#3a3a3a;stroke-width:0.1px">18</text>
<line x1="449.8" y1="493.9" x2="449.8" y2="497.4" stroke="#333" stroke-width="1.1"/>
<text x="449.8" y="506.7" font-size="8.6" text-anchor="middle" style="fill:#3a3a3a;stroke:#3a3a3a;stroke-width:0.1px">20</text>
<line x1="464.7" y1="493.9" x2="464.7" y2="497.4" stroke="#333" stroke-width="1.1"/>
<text x="464.7" y="506.7" font-size="8.6" text-anchor="middle" style="fill:#3a3a3a;stroke:#3a3a3a;stroke-width:0.1px">22</text>
<line x1="479.5" y1="493.9" x2="479.5" y2="497.4" stroke="#333" stroke-width="1.1"/>
<text x="479.5" y="506.7" font-size="8.6" text-anchor="middle" style="fill:#3a3a3a;stroke:#3a3a3a;stroke-width:0.1px">24</text>
<line x1="494.3" y1="493.9" x2="494.3" y2="497.4" stroke="#333" stroke-width="1.1"/>
<text x="494.3" y="506.7" font-size="8.6" text-anchor="middle" style="fill:#3a3a3a;stroke:#3a3a3a;stroke-width:0.1px">26</text>
<line x1="509.1" y1="493.9" x2="509.1" y2="497.4" stroke="#333" stroke-width="1.1"/>
<text x="509.1" y="506.7" font-size="8.6" text-anchor="middle" style="fill:#3a3a3a;stroke:#3a3a3a;stroke-width:0.1px">28</text>
<text x="292.2" y="279.1" font-size="13.4" font-weight="bold" fill="#000" style="stroke:#000;stroke-width:0.6px">D</text>
<text x="202.6" y="198.8" font-size="9.2" fill="#222">CMV reactivation</text>
<rect x="236.2" y="203.2" width="20.2" height="8.2" fill="#e8a396"/>
<line x1="237.8" y1="207.3" x2="254.8" y2="207.3" stroke="#9e1020" stroke-width="1.8" />
<text x="260.2" y="210.9" font-size="7.8" fill="#222">yes</text>
<rect x="236.2" y="216.3" width="20.2" height="8.2" fill="#e8a396"/>
<line x1="237.8" y1="220.4" x2="254.8" y2="220.4" stroke="#9e1020" stroke-width="1.8" stroke-dasharray="4.4 1.6"/>
<text x="260.2" y="223.5" font-size="7.8" fill="#222">no</text>
<text x="436.8" y="198.3" font-size="9.2" fill="#222">CMV reactivation</text>
<rect x="470.1" y="202.8" width="20.2" height="7.9" fill="#a6aacb"/>
<line x1="471.7" y1="206.8" x2="488.7" y2="206.8" stroke="#1d3a72" stroke-width="1.8" />
<text x="495.1" y="209.5" font-size="7.8" fill="#222">yes</text>
<rect x="470.1" y="215.3" width="20.2" height="7.9" fill="#a6aacb"/>
<line x1="471.7" y1="219.2" x2="488.7" y2="219.2" stroke="#1d3a72" stroke-width="1.8" stroke-dasharray="4.4 1.6"/>
<text x="495.1" y="222.0" font-size="7.8" fill="#222">no</text>
<text x="208.3" y="315.7" font-size="9.2" fill="#222">EBV reactivation</text>
<rect x="238.1" y="320.4" width="20.2" height="8.0" fill="#c2ddac"/>
<line x1="239.7" y1="324.4" x2="256.7" y2="324.4" stroke="#2f802c" stroke-width="1.8" />
<text x="264.1" y="326.7" font-size="7.8" fill="#222">yes</text>
<rect x="238.1" y="335.3" width="20.2" height="8.0" fill="#c2ddac"/>
<line x1="239.7" y1="339.3" x2="256.7" y2="339.3" stroke="#2f802c" stroke-width="1.8" stroke-dasharray="4.4 1.6"/>
<text x="264.1" y="340.7" font-size="7.8" fill="#222">no</text>
<text x="439.0" y="315.2" font-size="9.2" fill="#222">EBV reactivation</text>
<rect x="470.3" y="320.3" width="20.2" height="7.8" fill="#a6aacb"/>
<line x1="471.9" y1="324.2" x2="488.9" y2="324.2" stroke="#1d3a72" stroke-width="1.8" />
<text x="494.8" y="326.5" font-size="7.8" fill="#222">yes</text>
<rect x="470.3" y="333.8" width="20.2" height="7.8" fill="#a6aacb"/>
<line x1="471.9" y1="337.7" x2="488.9" y2="337.7" stroke="#1d3a72" stroke-width="1.8" stroke-dasharray="4.4 1.6"/>
<text x="494.8" y="340.0" font-size="7.8" fill="#222">no</text>
<g transform="translate(13.3,195.0) rotate(-90)">
<text x="0.0" y="0.0" font-size="10.6" textLength="43.6" lengthAdjust="spacingAndGlyphs" style="stroke-width:0.22px">Virus specific</text>
<text x="45.8" y="0.0" font-size="10.6" textLength="13.2" lengthAdjust="spacingAndGlyphs" style="stroke-width:0.22px">CD8</text>
<text x="59.0" y="-3.7" font-size="7.4" textLength="8.6" lengthAdjust="spacingAndGlyphs" style="stroke-width:0.22px">pos</text>
<text x="69.4" y="0.0" font-size="10.6" textLength="39.2" lengthAdjust="spacingAndGlyphs" style="stroke-width:0.22px">T cells (*10</text>
<text x="108.0" y="-3.9" font-size="7.8" textLength="4.2" lengthAdjust="spacingAndGlyphs" style="stroke-width:0.22px">6</text>
<text x="111.6" y="0.0" font-size="10.6" textLength="10.6" lengthAdjust="spacingAndGlyphs" style="stroke-width:0.22px">/L)</text>
</g>
<text x="276.6" y="254.6" font-size="10.6" textLength="17.6" lengthAdjust="spacingAndGlyphs" fill="#222">Week</text>
<g transform="translate(13.3,458.8) rotate(-90)">
<text x="0.0" y="0.0" font-size="10.6" textLength="43.6" lengthAdjust="spacingAndGlyphs" style="stroke-width:0.22px">Virus specific</text>
<text x="45.8" y="0.0" font-size="10.6" textLength="13.2" lengthAdjust="spacingAndGlyphs" style="stroke-width:0.22px">CD8</text>
<text x="59.0" y="-3.7" font-size="7.4" textLength="8.6" lengthAdjust="spacingAndGlyphs" style="stroke-width:0.22px">pos</text>
<text x="69.4" y="0.0" font-size="10.6" textLength="39.2" lengthAdjust="spacingAndGlyphs" style="stroke-width:0.22px">T cells (*10</text>
<text x="108.0" y="-3.9" font-size="7.8" textLength="4.2" lengthAdjust="spacingAndGlyphs" style="stroke-width:0.22px">6</text>
<text x="111.6" y="0.0" font-size="10.6" textLength="10.6" lengthAdjust="spacingAndGlyphs" style="stroke-width:0.22px">/L)</text>
</g>
<text x="276.9" y="517.8" font-size="10.6" textLength="17.6" lengthAdjust="spacingAndGlyphs" fill="#222">Week</text>
</svg></body></html>
